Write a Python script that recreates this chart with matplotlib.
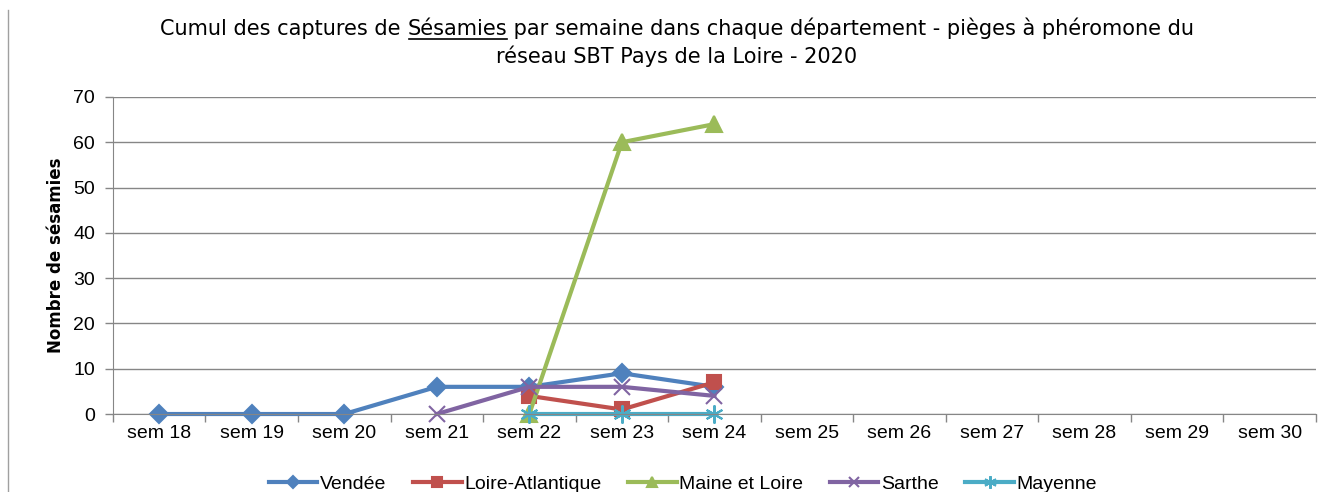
import numpy as np
import matplotlib.pyplot as plt
from matplotlib.lines import Line2D

plt.rcParams['font.family'] = ['Liberation Sans', 'DejaVu Sans']

weeks = ['sem 18', 'sem 19', 'sem 20', 'sem 21', 'sem 22', 'sem 23', 'sem 24',
         'sem 25', 'sem 26', 'sem 27', 'sem 28', 'sem 29', 'sem 30']
nan = np.nan
vendee = [0, 0, 0, 6, 6, 9, 6] + [nan] * 6
loire_atl = [nan, nan, nan, nan, 4, 1, 7] + [nan] * 6
maine = [nan, nan, nan, nan, 0, 60, 64] + [nan] * 6
sarthe = [nan, nan, nan, 0, 6, 6, 4] + [nan] * 6
mayenne = [nan, nan, nan, nan, 0, 0, 0] + [nan] * 6

series = [
    ('Vendée', vendee, '#4F81BD', 'D', 9),
    ('Loire-Atlantique', loire_atl, '#C0504D', 's', 10),
    ('Maine et Loire', maine, '#9BBB59', '^', 11),
    ('Sarthe', sarthe, '#8064A2', 'x', 11),
    ('Mayenne', mayenne, '#4BACC6', (6, 2, 0), 13),
]

fig = plt.figure(figsize=(13.4, 4.92), dpi=100)
ax = fig.add_axes([0.0843, 0.1585, 0.8977, 0.6445])
x = np.arange(len(weeks))

for name, vals, col, mk, ms in series:
    ax.plot(x, vals, color=col, lw=3, marker=mk, markersize=ms, clip_on=False,
            markeredgecolor=col, markerfacecolor=col, markeredgewidth=1.5, label=name)

ax.set_xlim(-0.5, len(weeks) - 0.5)
ax.set_ylim(0, 70)
ax.set_yticks(np.arange(0, 71, 10))
ax.set_xticks(x)
ax.set_xticklabels(weeks, fontsize=14)
ax.tick_params(axis='x', length=0, pad=8)
ax.set_xticks(np.arange(-0.5, len(weeks)), minor=True)
ax.tick_params(axis='x', which='minor', length=6, color='#868686', width=1)
ax.tick_params(axis='y', labelsize=14, length=6, color='#868686', width=1, pad=7)
ax.grid(axis='y', color='#868686', lw=1)
ax.set_axisbelow(True)
for s in ['top', 'right']:
    ax.spines[s].set_visible(False)
ax.spines['left'].set_color('#868686')
ax.spines['bottom'].set_color('#868686')
ax.set_ylabel('Nombre de sésamies', fontsize=12, fontweight='bold', labelpad=6,
              family='DejaVu Sans')

# title with underlined word
line1_a = 'Cumul des captures de '
word = 'Sésamies'
line1_b = ' par semaine dans chaque département - pièges à phéromone du'
tkw = dict(fontsize=15, ha='left', va='baseline', family='DejaVu Sans')
fig.canvas.draw()
r = fig.canvas.get_renderer()
ta = fig.text(0, 0, line1_a, **tkw)
tw = fig.text(0, 0, word, **tkw)
tb = fig.text(0, 0, line1_b, **tkw)
wa = ta.get_window_extent(r).width
ww = tw.get_window_extent(r).width
wb = tb.get_window_extent(r).width
W = fig.bbox.width
total = wa + ww + wb
x0 = 677 - total / 2
yb = 1 - 35 / 492
ta.set_position((x0 / W, yb))
tw.set_position(((x0 + wa) / W, yb))
tb.set_position(((x0 + wa + ww) / W, yb))
fig.add_artist(Line2D([(x0 + wa + 2) / W, (x0 + wa + ww) / W], [yb - 4 / 492, yb - 4 / 492],
                      color='black', lw=1.2, transform=fig.transFigure))
fig.text(677 / W, 1 - 63 / 492, 'réseau SBT Pays de la Loire - 2020', fontsize=15,
         ha='center', va='baseline', family='DejaVu Sans')

fig.legend(loc='center', bbox_to_anchor=(683 / W, 8 / 492), ncol=5, frameon=False,
           fontsize=14, handlelength=2.5, columnspacing=1.35, handletextpad=0.15,
           markerscale=0.7)

fig.add_artist(Line2D([8 / W, 8 / W], [0, 1 - 10 / 492], color='#a0a0a0', lw=1,
                      transform=fig.transFigure))

fig.savefig('out.png', dpi=100)
